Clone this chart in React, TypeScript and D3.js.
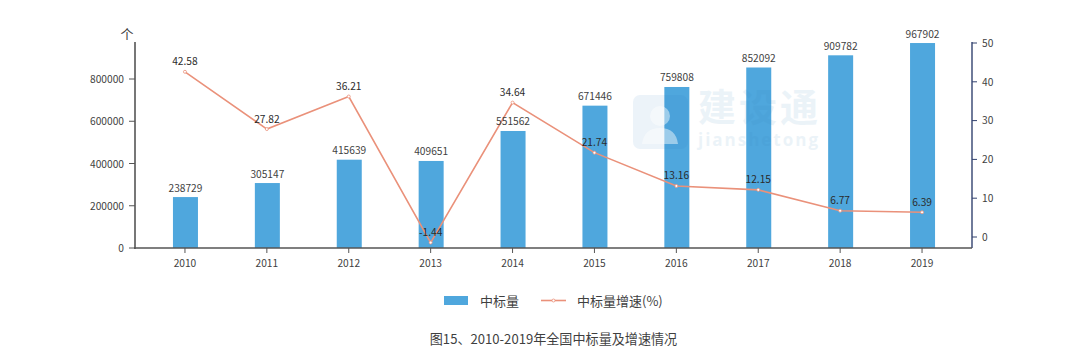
import React from "react";
import * as d3 from "d3";

const years = ["2010","2011","2012","2013","2014","2015","2016","2017","2018","2019"];
const volumes = [238729,305147,415639,409651,551562,671446,759808,852092,909782,967902];
const growth = [42.58,27.82,36.21,-1.44,34.64,21.74,13.16,12.15,6.77,6.39];
const leftTicks = [0,200000,400000,600000,800000];
const rightTicks = [0,10,20,30,40,50];
const barName = "中标量";
const lineName = "中标量增速(%)";
const title = "图15、2010-2019年全国中标量及增速情况";
const unit = "个";

const FONT = "'Noto Sans CJK SC','Noto Sans',sans-serif";
const TEXT = "#3f3f3f";
const LINE = "#ea917a";
const BAR = "#4fa7dd";

const left = 135, right = 972, bottom = 248, top = 42;
const x = d3.scalePoint<string>().domain(years).range([left, right]).padding(0.61);
const yL = d3.scaleLinear().domain([0, 800000]).range([bottom, 79]);
const yR = d3.scaleLinear().domain([0, 50]).range([237, 43]);
const linePath = d3.line<number>().x((_, i) => x(years[i])!).y(d => yR(d));
const BW = 25;

export default function App() {
  return (
    <svg width={1080} height={354} viewBox="0 0 1080 354"
      style={{ position: "absolute", left: 0, top: 0, background: "#fff", fontFamily: FONT }}>
      {volumes.map((v, i) => (
        <rect key={years[i]} x={x(years[i])! - BW / 2 + 0.5} y={yL(v) - 0.5} width={BW} height={bottom - yL(v) + 0.5} fill={BAR} />
      ))}

      <g opacity={0.09} fill="#2f7fb8">
        <rect x={633} y={95} width={55} height={54} rx={7} />
      </g>
      <g fill="#ffffff" opacity={0.45}>
        <circle cx={660} cy={116} r={10} />
        <path d="M642 144 q2 -16 18 -16 q16 0 18 16 z" />
      </g>
      <text x={698} y={121} fontSize={38} fontWeight={700} fill="#2f7fb8" opacity={0.09} textLength={120}>建设通</text>
      <text x={698} y={146} fontSize={17} fontWeight={700} fill="#2f7fb8" opacity={0.09} textLength={120} fontFamily="'Open Sans',sans-serif">jianshetong</text>

      <line x1={left} x2={left} y1={top} y2={bottom + 1} stroke="#555" strokeWidth={1.6} />
      <line x1={right} x2={right} y1={top} y2={bottom} stroke="#33426f" strokeWidth={1.4} />
      <line x1={left - 1} x2={right} y1={bottom} y2={bottom} stroke="#555" strokeWidth={1.6} />

      {leftTicks.map(t => (
        <g key={t}>
          <line x1={left - 6} x2={left} y1={yL(t)} y2={yL(t)} stroke="#555" />
          <text x={left - 11} y={yL(t) - 0.5} textAnchor="end" dominantBaseline="central" fontSize={10.2} fill={TEXT}>{t}</text>
        </g>
      ))}
      {rightTicks.map(t => (
        <g key={t}>
          <line x1={right} x2={right + 5} y1={yR(t)} y2={yR(t)} stroke="#33426f" />
          <text x={right + 10} y={yR(t) - 0.7} dominantBaseline="central" fontSize={10.2} fill={TEXT}>{t}</text>
        </g>
      ))}
      {years.map(c => (
        <g key={c}>
          <line x1={x(c)} x2={x(c)} y1={bottom} y2={bottom + 5} stroke="#555" />
          <text x={x(c)} y={262} textAnchor="middle" dominantBaseline="central" fontSize={10.2} fill={TEXT}>{c}</text>
        </g>
      ))}
      <text x={127} y={33} textAnchor="middle" dominantBaseline="central" fontSize={13} fill={TEXT}>{unit}</text>

      <path d={linePath(growth)!} fill="none" stroke={LINE} strokeWidth={1.6} />
      {growth.map((g, i) => (
        <circle key={years[i]} cx={x(years[i])} cy={yR(g)} r={1.5} fill="#fff" stroke={LINE} strokeWidth={0.8} />
      ))}

      {volumes.map((v, i) => (
        <text key={years[i]} x={x(years[i])! + 0.5} y={yL(v) - 10.5} textAnchor="middle" dominantBaseline="central" fontSize={10.2} fill={TEXT}>{v}</text>
      ))}
      {growth.map((g, i) => (
        <text key={years[i]} x={x(years[i])} y={yR(g) - 11} textAnchor="middle" dominantBaseline="central" fontSize={10.2} fill="#2b2b2b">{g}</text>
      ))}

      <rect x={444} y={296} width={24} height={9} fill={BAR} />
      <text x={480} y={300} dominantBaseline="central" fontSize={13} fill={TEXT}>{barName}</text>
      <line x1={541} x2={566} y1={300.5} y2={300.5} stroke={LINE} strokeWidth={1.6} />
      <circle cx={553.5} cy={300.5} r={1.5} fill="#fff" stroke={LINE} strokeWidth={0.8} />
      <text x={577} y={300} dominantBaseline="central" fontSize={13} fill={TEXT}>{lineName}</text>

      <text x={553.5} y={338} textAnchor="middle" dominantBaseline="central" fontSize={13.1} fill={TEXT}>{title}</text>
    </svg>
  );
}
